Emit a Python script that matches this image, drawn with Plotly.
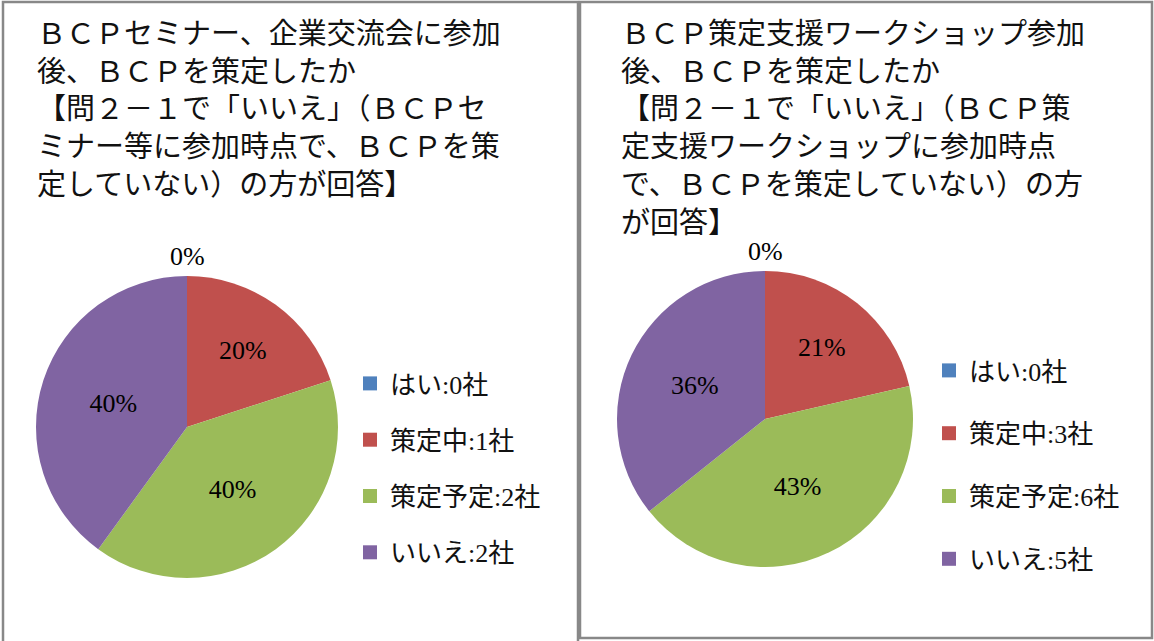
import plotly.graph_objects as go

# ---- data ----
categories = ["はい", "策定中", "策定予定", "いいえ"]
colors = ["#4F81BD", "#C0504D", "#9BBB59", "#8064A2"]
seminar_counts = [0, 1, 2, 2]
workshop_counts = [0, 3, 6, 5]
title_left = ("ＢＣＰセミナー、企業交流会に参加<br>後、ＢＣＰを策定したか<br>"
              "【問２－１で「いいえ」（ＢＣＰセ<br>ミナー等に参加時点で、ＢＣＰを策<br>"
              "定していない）の方が回答】")
title_right = ("ＢＣＰ策定支援ワークショップ参加<br>後、ＢＣＰを策定したか<br>"
               "【問２－１で「いいえ」（ＢＣＰ策<br>定支援ワークショップに参加時点<br>"
               "で、ＢＣＰを策定していない）の方<br>が回答】")

W, H = 1154, 641
FONT = "Liberation Serif, Noto Sans CJK JP, serif"

def px(x):
    return x / W

def py(y):
    return 1 - y / H

left_dom = dict(x=[px(36), px(338)], y=[py(578), py(276)])
right_dom = dict(x=[px(617), px(913)], y=[py(567), py(271)])

fig = go.Figure()

def add_pie(counts, dom, name):
    labels = [f"{c}:{n}社" for c, n in zip(categories, counts)]
    fig.add_trace(go.Pie(
        labels=labels, values=counts, domain=dom, sort=False,
        direction="clockwise", rotation=0, name=name,
        marker=dict(colors=colors, line=dict(width=0)),
        texttemplate="%{percent:.0%}", textposition="inside",
        insidetextorientation="horizontal",
        textfont=dict(family=FONT, size=26, color="black"),
        showlegend=False, hoverinfo="label+percent",
    ))
    return labels

labels_l = add_pie(seminar_counts, left_dom, "seminar")
labels_r = add_pie(workshop_counts, right_dom, "workshop")

# legend entries (square markers), one group per entry for spacing
for i, (lab, col) in enumerate(zip(labels_l, colors)):
    fig.add_trace(go.Scatter(x=[None], y=[None], mode="markers", name=lab,
                             marker=dict(symbol="square", size=14, color=col),
                             legendgroup=f"l{i}", legend="legend"))
for i, (lab, col) in enumerate(zip(labels_r, colors)):
    fig.add_trace(go.Scatter(x=[None], y=[None], mode="markers", name=lab,
                             marker=dict(symbol="square", size=14, color=col),
                             legendgroup=f"r{i}", legend="legend2"))

# zero-slice labels at top of each pie
for dom, counts in [(left_dom, seminar_counts), (right_dom, workshop_counts)]:
    total = sum(counts)
    fig.add_annotation(text=f"{counts[0] / total:.0%}", xref="paper", yref="paper",
                       x=(dom["x"][0] + dom["x"][1]) / 2, y=dom["y"][1],
                       xanchor="center", yanchor="bottom", showarrow=False,
                       yshift=3,
                       font=dict(family=FONT, size=26, color="black"))

# titles
fig.add_annotation(text=title_left, xref="paper", yref="paper", x=px(35), y=py(16),
                   xanchor="left", yanchor="top", align="left", showarrow=False,
                   font=dict(family=FONT, size=29, color="#111"))
fig.add_annotation(text=title_right, xref="paper", yref="paper", x=px(619), y=py(16),
                   xanchor="left", yanchor="top", align="left", showarrow=False,
                   font=dict(family=FONT, size=29, color="#111"))

# panel borders
fig.add_shape(type="rect", xref="paper", yref="paper", x0=px(3), x1=px(578),
              y0=py(660), y1=py(2), line=dict(color="#888", width=2.5))
fig.add_shape(type="rect", xref="paper", yref="paper", x0=px(580), x1=px(1152),
              y0=py(638), y1=py(2), line=dict(color="#888", width=2.5))

legend_font = dict(family=FONT, size=26, color="#111")
fig.update_layout(
    width=W, height=H, margin=dict(l=0, r=0, t=0, b=0),
    paper_bgcolor="white", plot_bgcolor="white",
    xaxis=dict(visible=False), yaxis=dict(visible=False),
    legend=dict(x=px(350), y=py(360), xanchor="left", yanchor="top",
                font=legend_font, tracegroupgap=19.5, bgcolor="rgba(0,0,0,0)",
                itemclick=False),
    legend2=dict(x=px(929), y=py(347), xanchor="left", yanchor="top",
                 font=legend_font, tracegroupgap=26, bgcolor="rgba(0,0,0,0)",
                 itemclick=False),
)

fig.write_html("out.html", config={"displayModeBar": False},
               post_script="document.body.style.margin='0';")
